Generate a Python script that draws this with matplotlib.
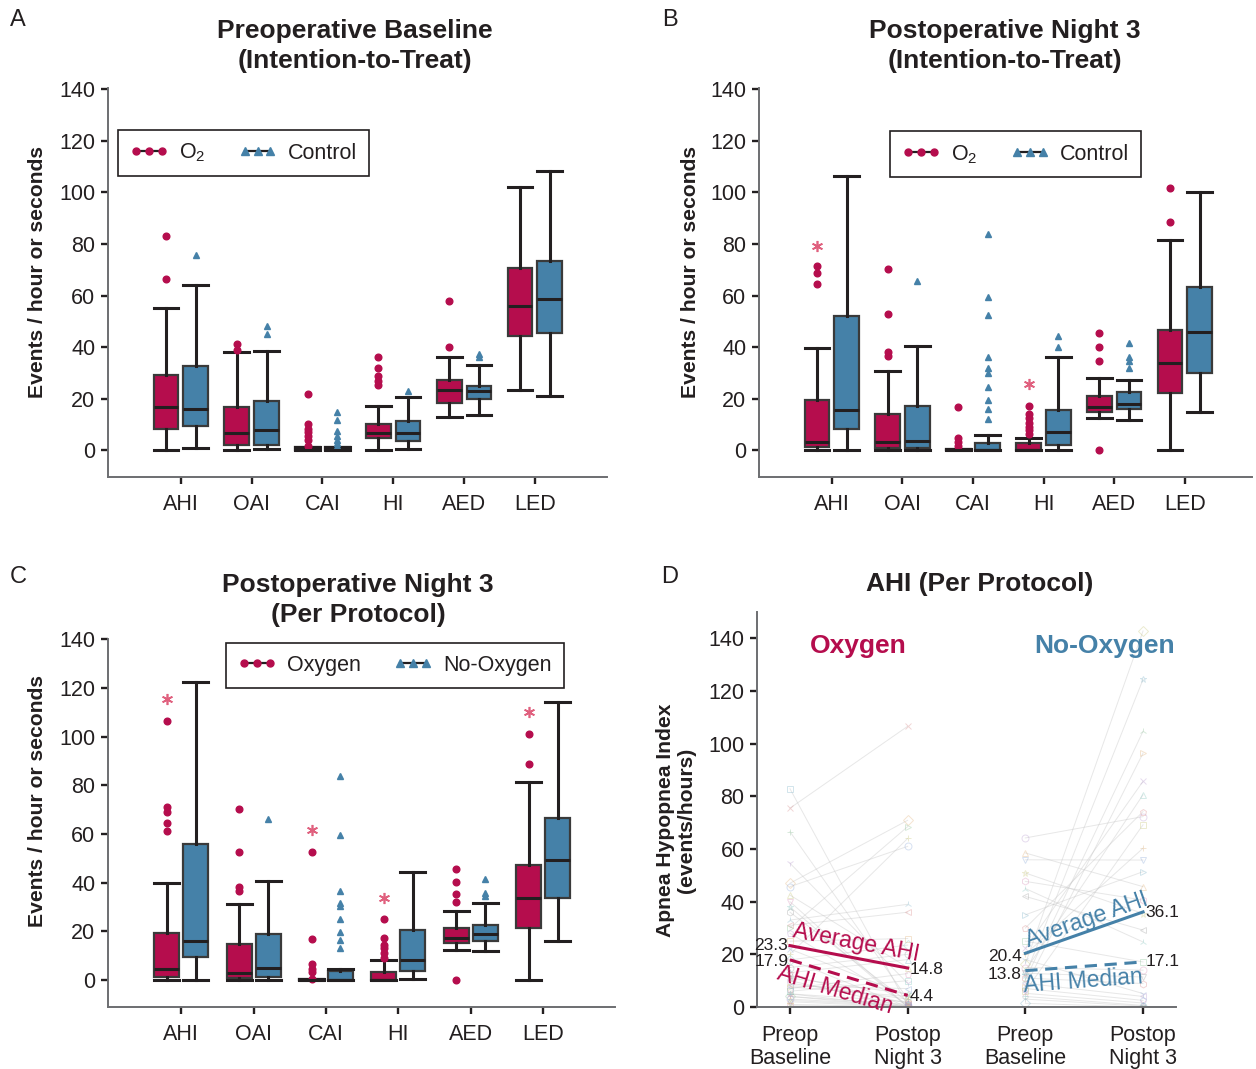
import numpy as np
import matplotlib
matplotlib.use('Agg')
import matplotlib.pyplot as plt
from matplotlib.lines import Line2D

plt.rcParams['font.family'] = ['Liberation Sans', 'DejaVu Sans']
plt.rcParams['mathtext.default'] = 'regular'

RED = '#b50d4d'
BLUE = '#4581a8'
STAR = '#e0607e'
INK = '#231f20'
SPINE = '#6d6e71'

categories = ['AHI', 'OAI', 'CAI', 'HI', 'AED', 'LED']
yticks = [0, 20, 40, 60, 80, 100, 120, 140]

# ---------------- Panel A : Preoperative baseline (ITT) ----------------
A_o2_whislo = [0, 0, 0, 0, 12.9, 23.5]
A_o2_q1 = [8.1, 2.2, 0, 4.8, 18.4, 44.2]
A_o2_med = [16.7, 6.7, 0, 6.7, 23.3, 55.9]
A_o2_q3 = [29.2, 16.8, 1.3, 10.3, 27.4, 70.5]
A_o2_whishi = [55.3, 37.9, 1.3, 17.1, 36.0, 102.2]
A_o2_fliers = [[83.2, 66.6], [41.1, 38.8], [21.9, 10.0, 8.4, 7.1, 5.4, 4.1, 1.8],
               [36.0, 31.8, 28.9, 27.0, 25.1], [58.0, 40.2], []]
A_o2_stars = [None, None, None, None, None, None]

A_ct_whislo = [0.9, 0.3, 0, 0.3, 13.6, 20.9]
A_ct_q1 = [9.3, 1.9, 0, 3.5, 19.7, 45.4]
A_ct_med = [15.8, 7.8, 0, 6.7, 22.9, 58.6]
A_ct_q3 = [32.7, 19.0, 1.3, 11.3, 24.9, 73.3]
A_ct_whishi = [64.2, 38.3, 1.3, 20.6, 33.2, 108.3]
A_ct_fliers = [[75.9], [48.2, 45.0], [14.8, 11.6, 7.5, 5.4, 4.0, 2.8, 1.8],
               [22.8], [37.5, 36.0], []]

# ---------------- Panel B : Postoperative night 3 (ITT) ----------------
B_o2_whislo = [0, 0, 0, 0, 12.5, 0]
B_o2_q1 = [1.3, 0.9, 0, 0, 15.0, 22.1]
B_o2_med = [3.2, 3.2, 0, 0, 16.7, 33.7]
B_o2_q3 = [19.4, 14.1, 0.5, 2.6, 21.0, 46.7]
B_o2_whishi = [39.5, 30.9, 0.5, 4.8, 27.9, 81.4]
B_o2_fliers = [[71.4, 68.8, 64.3], [70.1, 52.7, 37.9, 36.6], [16.7, 4.8, 3.2, 1.5],
               [17.1, 14.1, 12.5, 10.5, 9.0, 7.7, 6.4], [45.4, 40.1, 34.7, 0], [101.6, 88.7]]
B_o2_stars = [79.1, None, None, 25.7, None, None]

B_ct_whislo = [0, 0, 0, 0, 11.6, 14.8]
B_ct_q1 = [8.1, 0.9, 0, 1.9, 15.8, 30.1]
B_ct_med = [15.4, 3.6, 0, 7.1, 18.0, 46.0]
B_ct_q3 = [52.1, 17.1, 2.8, 15.4, 22.4, 63.3]
B_ct_whishi = [106.4, 40.5, 5.8, 36.3, 27.4, 100.3]
B_ct_fliers = [[], [65.8], [83.8, 59.4, 52.3, 36.3, 31.9, 29.8, 24.4, 19.3, 16.1, 12.2],
               [44.4, 40.1], [41.4, 36.3, 34.7, 31.9], []]

# ---------------- Panel C : Postoperative night 3 (PP) ----------------
C_o2_whislo = [0, 0, 0, 0, 12.3, 0]
C_o2_q1 = [1.4, 1.0, 0, 0, 15.1, 21.2]
C_o2_med = [4.7, 2.7, 0, 0, 17.4, 33.8]
C_o2_q3 = [19.4, 14.6, 0.5, 3.4, 21.5, 47.2]
C_o2_whishi = [40.0, 31.2, 0.5, 8.2, 28.5, 81.4]
C_o2_fliers = [[106.5, 71.2, 69.1, 64.6, 61.3], [70.2, 52.7, 38.1, 36.7],
               [52.7, 16.8, 6.4, 4.7, 3.3, 0.5], [25.0, 17.4, 14.4, 13.0, 11.0, 9.2],
               [45.6, 40.1, 35.2, 32.2, 0], [101.2, 88.7]]
C_o2_stars = [115.4, None, 61.6, 33.8, None, 110.1]

C_ct_whislo = [0, 0, 0, 0.3, 11.9, 16.1]
C_ct_q1 = [9.6, 1.4, 0, 3.8, 16.0, 33.8]
C_ct_med = [16.1, 5.1, 0, 8.2, 18.8, 49.4]
C_ct_q3 = [56.1, 18.9, 3.8, 20.5, 22.6, 66.6]
C_ct_whishi = [122.5, 40.8, 4.5, 44.5, 31.7, 114.2]
C_ct_fliers = [[], [66.0], [83.9, 59.5, 36.5, 31.7, 30.4, 24.9, 19.8, 16.4, 13.0],
               [], [41.7, 35.6, 34.7], []]

# ---------------- Panel D : AHI per protocol, individual pairs ----------------
D_xlabels = ['Preop\nBaseline', 'Postop\nNight 3', 'Preop\nBaseline', 'Postop\nNight 3']
D_oxy_pre = [82.9, 75.5, 66.6, 54.6, 47.0, 45.7, 42.5, 40.0, 38.0, 36.0, 33.0, 31.0, 30.0,
             28.0, 25.0, 22.0, 20.0, 18.0, 17.9, 15.0, 13.0, 12.0, 11.0, 10.0, 9.0, 8.0,
             7.6, 7.0, 6.0, 5.0, 5.0, 4.0, 4.0, 3.0, 2.5, 2.0, 1.0, 0.5]
D_oxy_post = [0.5, 106.6, 3.0, 9.0, 70.9, 61.0, 15.0, 0, 0, 2.0, 39.0, 36.0, 68.5,
              1.0, 26.0, 4.4, 64.0, 0, 23.5, 20.0, 18.0, 1.3, 5.0, 0, 3.0, 7.0,
              4.0, 12.7, 10.0, 0, 2.0, 1.0, 0, 0.6, 0.3, 0, 0, 0]
D_nox_pre = [64.2, 58.5, 55.9, 50.9, 47.7, 45.0, 42.0, 35.0, 30.0, 25.0, 22.3, 20.0, 18.0,
             16.4, 15.0, 13.8, 12.8, 12.0, 11.0, 10.3, 9.0, 7.7, 7.0, 6.0, 5.2, 4.0, 3.0, 1.4]
D_nox_post = [72.3, 45.7, 55.8, 35.5, 40.6, 24.7, 29.2, 51.4, 74.2, 17.1, 85.7, 60.3, 5.1,
              142.8, 14.0, 80.6, 11.4, 124.4, 8.9, 104.7, 4.0, 96.4, 2.5, 69.2, 1.5, 0.6, 0.3, 0]
D_oxy_avg = [23.3, 14.8]
D_oxy_median = [17.9, 4.4]
D_nox_avg = [20.4, 36.1]
D_nox_median = [13.8, 17.1]

W, H = 1256, 1069


def px_axes(left, top, right, bottom):
    return fig.add_axes([left / W, 1 - bottom / H, (right - left) / W, (bottom - top) / H])


def style_ax(ax):
    for s in ['top', 'right']:
        ax.spines[s].set_visible(False)
    for s in ['left', 'bottom']:
        ax.spines[s].set_color(SPINE)
        ax.spines[s].set_linewidth(1.4)
    ax.tick_params(direction='out', length=5, width=1.7, color=INK, labelsize=15.5,
                   labelcolor=INK, pad=4)


def draw_group(ax, pos, whislo, q1, med, q3, whishi, fliers, color, marker, width):
    stats = []
    for i in range(len(pos)):
        stats.append(dict(whislo=whislo[i], q1=q1[i], med=med[i], q3=q3[i],
                          whishi=whishi[i], fliers=fliers[i]))
    ax.bxp(stats, positions=pos, widths=width, capwidths=width, patch_artist=True,
           manage_ticks=False, showfliers=True,
           boxprops=dict(facecolor=color, edgecolor='#3a3a3a', linewidth=1.6),
           medianprops=dict(color=INK, linewidth=2.2),
           whiskerprops=dict(color=INK, linewidth=2.2),
           capprops=dict(color=INK, linewidth=2.2),
           flierprops=dict(marker=marker, markerfacecolor=color, markeredgecolor=color,
                           markersize=4.8, linestyle='none'))


def draw_stars(ax, pos, stars):
    for p, s in zip(pos, stars):
        if s is not None:
            ax.plot([p], [s], marker=(6, 2, 0), color=STAR, markersize=8, mew=1.2,
                    linestyle='none')


def box_panel(ax, o2, ct, stars, off, width, xlim, ylim, labels, legend_anchor):
    x = np.arange(1, len(categories) + 1)
    draw_group(ax, x - off, *o2, RED, 'o', width)
    draw_group(ax, x + off, *ct, BLUE, '^', width)
    draw_stars(ax, x - off, stars)
    ax.set_xlim(*xlim)
    ax.set_ylim(*ylim)
    ax.set_xticks(x)
    ax.set_xticklabels(categories)
    ax.set_yticks(yticks)
    style_ax(ax)
    ax.tick_params(axis='x', pad=7)
    handles = [Line2D([0], [0], color=INK, lw=1.6, marker='o', ms=5, mfc=RED, mec=RED),
               Line2D([0], [0], color=INK, lw=1.6, marker='^', ms=6, mfc=BLUE, mec=BLUE)]
    leg = ax.legend(handles, labels, ncol=2, numpoints=3, loc='upper left',
                    bbox_to_anchor=legend_anchor, borderaxespad=0, fontsize=15.5,
                    frameon=True, fancybox=False, edgecolor=INK, framealpha=1,
                    handlelength=1.8, columnspacing=1.5, handletextpad=0.5,
                    borderpad=0.55)
    leg.get_frame().set_linewidth(1.2)
    for t in leg.get_texts():
        t.set_color(INK)


fig = plt.figure(figsize=(W / 100, H / 100), dpi=100)

axA = px_axes(108, 88, 607, 477)
axB = px_axes(759, 88, 1252, 477)
axC = px_axes(108, 639, 615, 1007)
axD = px_axes(757, 612, 1176, 1007)

box_panel(axA,
          (A_o2_whislo, A_o2_q1, A_o2_med, A_o2_q3, A_o2_whishi, A_o2_fliers),
          (A_ct_whislo, A_ct_q1, A_ct_med, A_ct_q3, A_ct_whishi, A_ct_fliers),
          A_o2_stars, 0.21, 0.35, (-0.03, 7.02), (-10.4, 140.5), ['O$_2$', 'Control'],
          (0.02, 0.892))
box_panel(axB,
          (B_o2_whislo, B_o2_q1, B_o2_med, B_o2_q3, B_o2_whishi, B_o2_fliers),
          (B_ct_whislo, B_ct_q1, B_ct_med, B_ct_q3, B_ct_whishi, B_ct_fliers),
          B_o2_stars, 0.21, 0.35, (-0.03, 6.95), (-10.4, 140.5), ['O$_2$', 'Control'],
          (0.266, 0.889))
box_panel(axC,
          (C_o2_whislo, C_o2_q1, C_o2_med, C_o2_q3, C_o2_whishi, C_o2_fliers),
          (C_ct_whislo, C_ct_q1, C_ct_med, C_ct_q3, C_ct_whishi, C_ct_fliers),
          C_o2_stars, 0.2, 0.345, (-0.01, 6.99), (-11.1, 140.2), ['Oxygen', 'No-Oxygen'],
          (0.233, 0.989))

# ---------------- Panel D ----------------
shapes = ['s', 'x', '+', '1', 'D', 'o', '^', 'v', '*', 'h', '2', '<', '>', 'p']
pastel = ['#7fb3c8', '#d98a8a', '#8fc49a', '#b79ad0', '#e0b27a', '#8aa8d8',
          '#c9c77a', '#d890b8', '#86c7c0', '#a0a0a0']
for k, (a, b) in enumerate(zip(D_oxy_pre, D_oxy_post)):
    axD.plot([1, 2], [a, b], color='#c4c4c4', lw=0.7, alpha=0.4, zorder=1)
    axD.plot([1, 2], [a, b], linestyle='none', marker=shapes[k % len(shapes)], ms=5,
             mfc='none', mec=pastel[k % len(pastel)], mew=0.7, alpha=0.35, zorder=1)
for k, (a, b) in enumerate(zip(D_nox_pre, D_nox_post)):
    axD.plot([3, 4], [a, b], color='#c4c4c4', lw=0.7, alpha=0.4, zorder=1)
    axD.plot([3, 4], [a, b], linestyle='none', marker=shapes[(k + 5) % len(shapes)], ms=5,
             mfc='none', mec=pastel[(k + 3) % len(pastel)], mew=0.7, alpha=0.35, zorder=1)

axD.plot([1, 2], D_oxy_avg, color=RED, lw=2.2, zorder=3)
axD.plot([1, 2], D_oxy_median, color=RED, lw=2.2, ls=(0, (4, 2.5)), zorder=3)
axD.plot([3, 4], D_nox_avg, color=BLUE, lw=2.2, zorder=3)
axD.plot([3, 4], D_nox_median, color=BLUE, lw=2.2, ls=(0, (4, 2.5)), zorder=3)

axD.set_xlim(0.72, 4.28)
axD.set_ylim(0, 150)
axD.set_xticks([1, 2, 3, 4])
axD.set_xticklabels(D_xlabels, linespacing=1.12)
axD.set_yticks(yticks)
style_ax(axD)
axD.tick_params(axis='x', pad=8)


def angle(v0, v1):
    return np.degrees(np.arctan2(v1 - v0, 1.0))


num_kw = dict(fontsize=12.5, color=INK, va='center', zorder=4)
axD.text(0.985, D_oxy_avg[0], f'{D_oxy_avg[0]:.1f}', ha='right', **num_kw)
axD.text(0.985, D_oxy_median[0] - 0.8, f'{D_oxy_median[0]:.1f}', ha='right', **num_kw)
axD.text(2.02, D_oxy_avg[1] - 0.7, f'{D_oxy_avg[1]:.1f}', ha='left', **num_kw)
axD.text(2.02, D_oxy_median[1] - 0.6, f'{D_oxy_median[1]:.1f}', ha='left', **num_kw)
axD.text(2.97, D_nox_avg[0] - 1.4, f'{D_nox_avg[0]:.1f}', ha='right', **num_kw)
axD.text(2.97, D_nox_median[0] - 1.3, f'{D_nox_median[0]:.1f}', ha='right', **num_kw)
axD.text(4.02, D_nox_avg[1] - 0.4, f'{D_nox_avg[1]:.1f}', ha='left', **num_kw)
axD.text(4.02, D_nox_median[1], f'{D_nox_median[1]:.1f}', ha='left', **num_kw)

lab_kw = dict(fontsize=16.5, ha='center', va='center', rotation_mode='anchor',
              transform_rotates_text=True, zorder=4)
axD.text(1.56, 24.6, 'Average AHI', color=RED,
         rotation=angle(*D_oxy_avg), **lab_kw)
axD.text(1.38, 6.6, 'AHI Median', color=RED,
         rotation=angle(*D_oxy_median), **lab_kw)
axD.text(3.52, 33.2, 'Average AHI', color=BLUE,
         rotation=angle(*D_nox_avg), **lab_kw)
axD.text(3.49, 9.8, 'AHI Median', color=BLUE,
         rotation=angle(*D_nox_median), **lab_kw)

axD.text(1.578, 136.9, 'Oxygen', color=RED, fontsize=19, fontweight='bold',
         ha='center', va='center')
axD.text(3.676, 136.9, 'No-Oxygen', color=BLUE, fontsize=19, fontweight='bold',
         ha='center', va='center')

# ---------------- titles, axis labels, panel letters ----------------
title_kw = dict(fontsize=19, fontweight='bold', color=INK, ha='center', va='center',
                linespacing=1.35)
fig.text(355 / W, 1 - 46 / H, 'Preoperative Baseline\n(Intention-to-Treat)', **title_kw)
fig.text(1005 / W, 1 - 46 / H, 'Postoperative Night 3\n(Intention-to-Treat)', **title_kw)
fig.text(358 / W, 1 - 600 / H, 'Postoperative Night 3\n(Per Protocol)', **title_kw)
fig.text(980 / W, 1 - 584 / H, 'AHI (Per Protocol)', **title_kw)

ylab_kw = dict(fontsize=15.2, fontweight='bold', color=INK, rotation=90, ha='center',
               va='center')
fig.text(38 / W, 1 - 272 / H, 'Events / hour or seconds', **ylab_kw)
fig.text(690 / W, 1 - 272 / H, 'Events / hour or seconds', **ylab_kw)
fig.text(38 / W, 1 - 801 / H, 'Events / hour or seconds', **ylab_kw)
fig.text(676 / W, 1 - 820 / H, 'Apnea Hypopnea Index\n(events/hours)', linespacing=1.1,
         **ylab_kw)

let_kw = dict(fontsize=17, color=INK, ha='center', va='center')
fig.text(18 / W, 1 - 20 / H, 'A', **let_kw)
fig.text(670 / W, 1 - 20 / H, 'B', **let_kw)
fig.text(18 / W, 1 - 577 / H, 'C', **let_kw)
fig.text(670 / W, 1 - 577 / H, 'D', **let_kw)

fig.savefig('out.png', dpi=100, facecolor='white')
